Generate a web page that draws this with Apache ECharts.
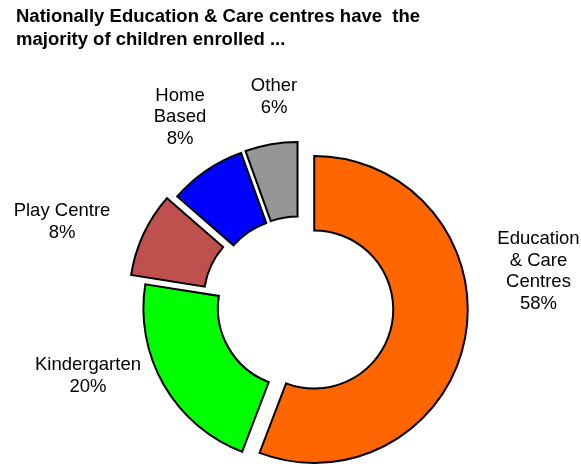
<!DOCTYPE html>
<html>
<head>
<meta charset="utf-8">
<script src="https://cdn.jsdelivr.net/npm/echarts@6/dist/echarts.min.js"></script>
<style>
  html, body { margin: 0; padding: 0; background: #ffffff; }
  #chart { width: 581px; height: 466px; }
</style>
</head>
<body>
<div id="chart"></div>
<script>
// ---- data ----
const titleText = 'Nationally Education & Care centres have  the\nmajority of children enrolled ...';
const categories = ['Education & Care Centres', 'Kindergarten', 'Play Centre', 'Home Based', 'Other'];
const labelNames = ['Education\n& Care\nCentres', 'Kindergarten', 'Play Centre', 'Home\nBased', 'Other'];
// slice sizes as drawn in the picture (share of the ring, %)
const sliceValues = [55.8, 21.7, 8.9, 8.1, 5.5];
// percentages printed on the labels
const printedPercents = [58, 20, 8, 8, 6];

// ---- styles / layout ----
const colors = ['#FF6600', '#00FF00', '#C0504D', '#0000FF', '#969696'];
const explode = [15, 3, 18.5, 11.5, 11.5];          // px each slice is pulled out
const baseCenter = [299.5, 306.8];
const labelAnchors = [[538.5, 271.5], [88, 376], [62, 222], [180, 117.4], [274, 97]];
const FONT = "'Liberation Sans', Arial, sans-serif";

// direction in which each slice is pulled out (middle of its arc, clockwise from 12 o'clock)
const total = sliceValues.reduce((a, b) => a + b, 0);
let acc = 0;
const centers = sliceValues.map((v, i) => {
  const mid = (acc + v / 2) / total * 2 * Math.PI;
  acc += v;
  return [baseCenter[0] + explode[i] * Math.sin(mid), baseCenter[1] - explode[i] * Math.cos(mid)];
});

const chart = echarts.init(document.getElementById('chart'), null, { renderer: 'canvas' });

const series = categories.map((cat, i) => ({
  type: 'pie',
  center: centers[i],
  radius: [79, 153.5],
  startAngle: 90,
  clockwise: true,
  avoidLabelOverlap: false,
  selectedMode: false,
  animation: false,
  emphasis: { disabled: true },
  label: {
    show: true,
    position: 'outside',
    color: '#000',
    fontFamily: FONT,
    fontSize: 18.5,
    lineHeight: 21.6,
    align: 'center',
    formatter: p => labelNames[p.dataIndex] + '\n' + printedPercents[p.dataIndex] + '%'
  },
  labelLine: { show: false },
  labelLayout: p => ({
    x: labelAnchors[p.dataIndex][0],
    y: labelAnchors[p.dataIndex][1],
    align: 'center',
    verticalAlign: 'middle'
  }),
  data: sliceValues.map((v, j) => {
    if (j === i) {
      return {
        value: v, name: categories[j],
        itemStyle: { color: colors[j], borderColor: '#000', borderWidth: 2, borderJoin: 'miter' },
        label: { show: true }
      };
    }
    return {
      value: v, name: categories[j],
      itemStyle: { color: 'rgba(0,0,0,0)', borderWidth: 0 },
      label: { show: false },
      labelLine: { show: false }
    };
  })
}));

chart.setOption({
  backgroundColor: '#ffffff',
  animation: false,
  title: {
    text: titleText,
    left: 16,
    top: 5,
    padding: 0,
    textStyle: {
      fontFamily: FONT,
      fontWeight: 'bold',
      fontSize: 18.5,
      lineHeight: 23.4,
      color: '#000'
    }
  },
  series: series
});
</script>
</body>
</html>
